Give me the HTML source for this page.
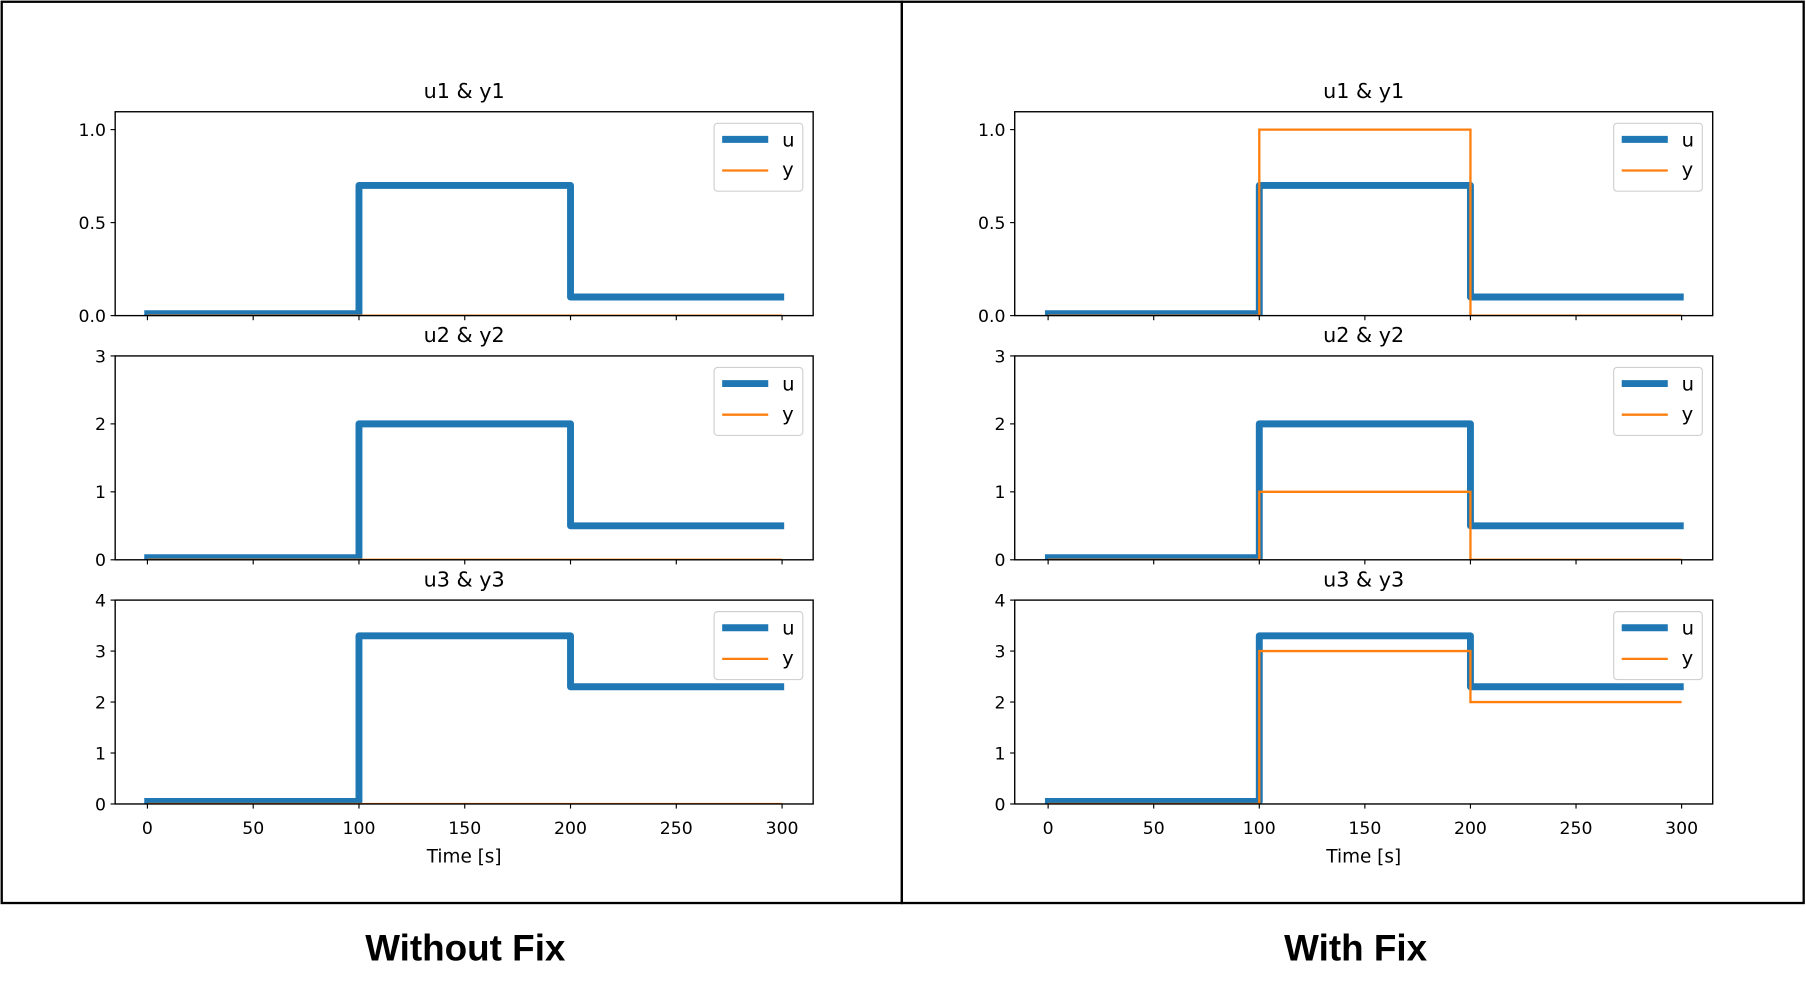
<!DOCTYPE html>
<html><head><meta charset="utf-8"><style>
html,body{margin:0;padding:0;background:#fff;}
svg{display:block;}
text{font-family:"DejaVu Sans","Liberation Sans",sans-serif;fill:#000;}
</style></head><body>
<svg id="fig" width="1806" height="993" viewBox="0 0 1568 862.1" xmlns="http://www.w3.org/2000/svg">
<rect x="0" y="0" width="1568" height="862.1" fill="#fff"/>
<rect x="1.5" y="1.5" width="781.5" height="782.5" fill="none" stroke="#000" stroke-width="2"/>
<rect x="783" y="1.5" width="783" height="782.5" fill="none" stroke="#000" stroke-width="2"/>
<text x="404" y="834" text-anchor="middle" font-size="32" font-weight="bold" style="font-family:'Liberation Sans',sans-serif">Without Fix</text>
<text x="1177" y="834" text-anchor="middle" font-size="32" font-weight="bold" style="font-family:'Liberation Sans',sans-serif">With Fix</text>
</svg>
<script>
// Data
const times = [0, 100, 200, 300];
const u1 = [0.01, 0.7, 0.1];
const u2 = [0.03, 2.0, 0.5];
const u3 = [0.05, 3.3, 2.3];
const y1NoFix = [0, 0, 0];
const y2NoFix = [0, 0, 0];
const y3NoFix = [0, 0, 0];
const y1Fix = [0, 1.0, 0];
const y2Fix = [0, 1.0, 0];
const y3Fix = [0, 3.0, 2.0];
const xTicks = [0, 50, 100, 150, 200, 250, 300];
const yTicks1 = ["0.0", "0.5", "1.0"];
const yTicks2 = ["0", "1", "2", "3"];
const yTicks3 = ["0", "1", "2", "3", "4"];
const yMax = [1.096, 3, 4];
const titles = ["u1 & y1", "u2 & y2", "u3 & y3"];

const NS = "http://www.w3.org/2000/svg";
const svg = document.getElementById('fig');
function el(tag, attrs, parent) {
  const e = document.createElementNS(NS, tag);
  for (const k in attrs) e.setAttribute(k, attrs[k]);
  (parent || svg).appendChild(e);
  return e;
}
const panelTops = [97, 309, 521];
const panelH = 177;
const columns = [
  {axL: 100, axR: 706, x0: 128, x300: 679, ys: [y1NoFix, y2NoFix, y3NoFix], side: 'left'},
  {axL: 881, axR: 1487, x0: 910, x300: 1460, ys: [y1Fix, y2Fix, y3Fix], side: 'right'}
];
const us = [u1, u2, u3];
const yTickSets = [yTicks1, yTicks2, yTicks3];

columns.forEach(col => {
  const sx = t => col.x0 + (t - 0) * (col.x300 - col.x0) / 300;
  for (let p = 0; p < 3; p++) {
    const top = panelTops[p], bot = top + panelH;
    const sy = v => bot - v / yMax[p] * panelH;
    const g = el('g', {});
    
    
    const t = el('text', {x: (col.axL + col.axR) / 2, y: top - 12, 'text-anchor': 'middle', 'font-size': 18}, g);
    t.textContent = titles[p];
    
    
    // y ticks
    yTickSets[p].forEach(lbl => {
      const v = parseFloat(lbl);
      const y = sy(v);
      el('line', {x1: col.axL - 4, x2: col.axL, y1: y, y2: y, stroke: '#000', 'stroke-width': 1}, g);
      const tl = el('text', {x: col.axL - 8, y: y + 5.5, 'text-anchor': 'end', 'font-size': 15}, g);
      tl.textContent = lbl;
      
      
    });
    // x ticks
    xTicks.forEach(v => {
      const x = sx(v);
      el('line', {x1: x, x2: x, y1: bot, y2: bot + 4, stroke: '#000', 'stroke-width': 1}, g);
      if (p === 2) {
        const tl = el('text', {x: x, y: bot + 26, 'text-anchor': 'middle', 'font-size': 15}, g);
        tl.textContent = String(v);
        
        
      }
    });
    if (p === 2) {
      const xl = el('text', {x: (col.axL + col.axR) / 2, y: bot + 51, 'text-anchor': 'middle', 'font-size': 16}, g);
      xl.textContent = 'Time [s]';
      
      
    }
    // step paths
    function stepPath(vals, tStart, tEnd) {
      let d = 'M' + sx(tStart) + ',' + sy(vals[0]);
      for (let i = 0; i < vals.length; i++) {
        const te = (i === vals.length - 1) ? tEnd : times[i + 1];
        d += ' L' + sx(te) + ',' + sy(vals[i]);
        if (i < vals.length - 1) d += ' L' + sx(te) + ',' + sy(vals[i + 1]);
      }
      return d;
    }
    const clipId = 'c' + col.side + p;
    const cp = el('clipPath', {id: clipId}, g);
    el('rect', {x: col.axL, y: top, width: col.axR - col.axL, height: panelH}, cp);
    const uLine = el('path', {d: stepPath(us[p], -1.5, 301), fill: 'none', stroke: '#1f77b4', 'stroke-width': 6, 'stroke-linejoin': 'round', 'clip-path': 'url(#' + clipId + ')'}, g);
    
    
    const yLine = el('path', {d: stepPath(col.ys[p], 0, 300), fill: 'none', stroke: '#ff7f0e', 'stroke-width': 2, 'clip-path': 'url(#' + clipId + ')'}, g);
    
    
    // axes frame
    el('rect', {x: col.axL, y: top, width: col.axR - col.axL, height: panelH, fill: 'none', stroke: '#000', 'stroke-width': 1.2}, g);
    // legend
    const lg = el('g', {}, g);
    
    
    const lx = col.axR - 86, ly = top + 10;
    el('rect', {x: lx, y: ly, width: 77, height: 59, rx: 3, fill: '#fff', stroke: '#d0d0d0', 'stroke-width': 1, 'fill-opacity': 0.8}, lg);
    el('line', {x1: lx + 7, x2: lx + 47, y1: ly + 14, y2: ly + 14, stroke: '#1f77b4', 'stroke-width': 6}, lg);
    el('line', {x1: lx + 7, x2: lx + 47, y1: ly + 41, y2: ly + 41, stroke: '#ff7f0e', 'stroke-width': 2}, lg);
    const lu = el('text', {x: lx + 59, y: ly + 20, 'font-size': 17}, lg);
    lu.textContent = 'u';
    
    
    const lyy = el('text', {x: lx + 59, y: ly + 46, 'font-size': 17}, lg);
    lyy.textContent = 'y';
    
    
  }
});
</script>
</body></html>
